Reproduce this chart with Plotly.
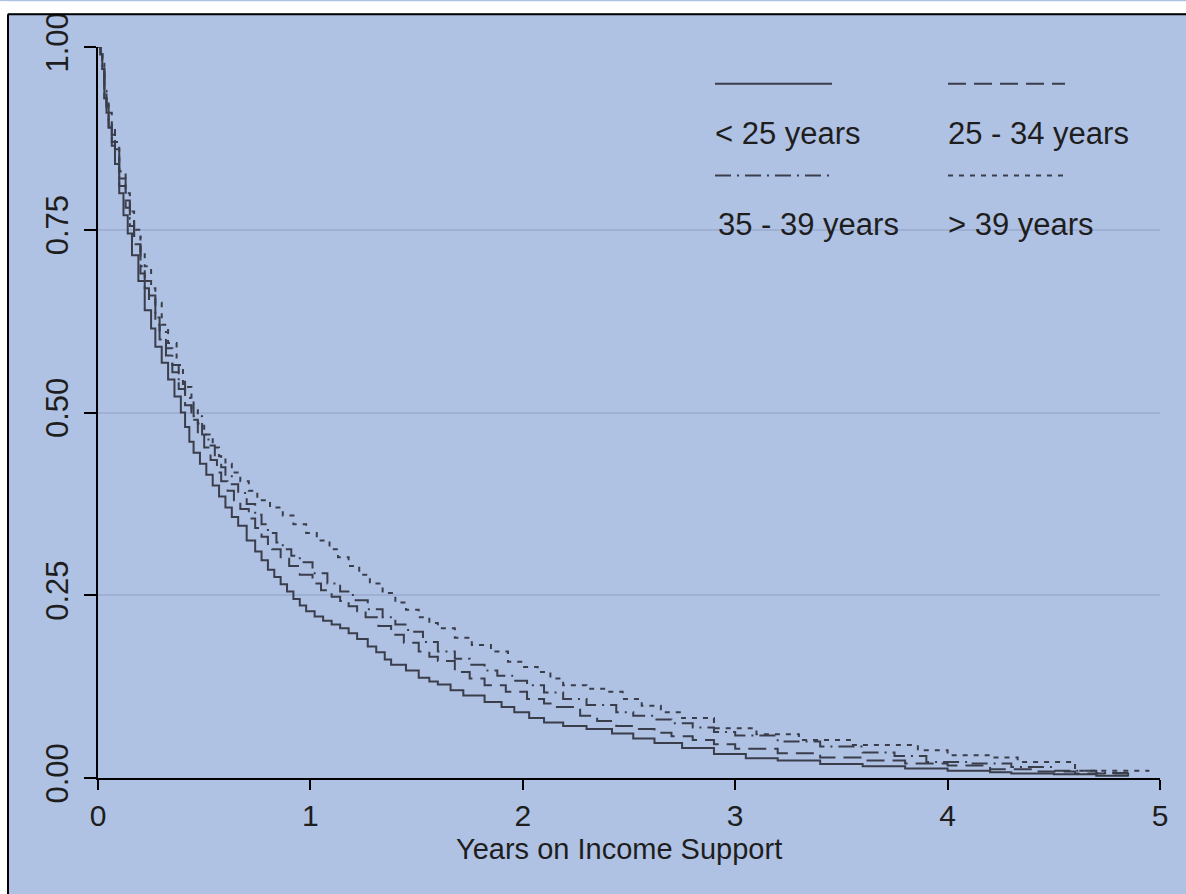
import plotly.graph_objects as go

# ---------------- data ----------------
t_lt25 = [0, 0.012, 0.02, 0.03, 0.04, 0.05, 0.065, 0.08, 0.1, 0.12,
          0.14, 0.16, 0.19, 0.22, 0.25, 0.27, 0.3, 0.33, 0.36, 0.39,
          0.41, 0.43, 0.45, 0.48, 0.51, 0.54, 0.57, 0.6, 0.63, 0.66,
          0.7, 0.74, 0.77, 0.8, 0.83, 0.86, 0.89, 0.92, 0.95, 0.98,
          1.02, 1.06, 1.1, 1.14, 1.18, 1.22, 1.27, 1.31, 1.35, 1.38,
          1.45, 1.51, 1.56, 1.6, 1.66, 1.72, 1.82, 1.9, 1.96, 2.03,
          2.1, 2.19, 2.3, 2.42, 2.52, 2.62, 2.75, 2.9, 3.05, 3.2,
          3.4, 3.6, 3.8, 4.0, 4.2, 4.3, 4.5, 4.7, 4.85]
s_lt25 = [1.0, 0.99, 0.97, 0.93, 0.91, 0.89, 0.865, 0.84, 0.80, 0.77,
          0.745, 0.715, 0.68, 0.64, 0.615, 0.59, 0.568, 0.545, 0.522, 0.50,
          0.48, 0.46, 0.445, 0.43, 0.415, 0.40, 0.385, 0.37, 0.357, 0.345,
          0.325, 0.31, 0.298, 0.285, 0.275, 0.265, 0.255, 0.245, 0.236, 0.228,
          0.221, 0.215, 0.21, 0.205, 0.198, 0.19, 0.18, 0.172, 0.162, 0.155,
          0.147, 0.137, 0.132, 0.128, 0.12, 0.113, 0.104, 0.097, 0.09, 0.082,
          0.076, 0.071, 0.067, 0.061, 0.054, 0.048, 0.041, 0.033, 0.027, 0.024,
          0.019, 0.016, 0.013, 0.010, 0.008, 0.006, 0.005, 0.003, 0.002]

t_25_34 = [0, 0.012, 0.02, 0.03, 0.04, 0.05, 0.065, 0.08, 0.1, 0.13,
           0.15, 0.17, 0.2, 0.22, 0.24, 0.27, 0.29, 0.32, 0.35, 0.38,
           0.41, 0.44, 0.47, 0.5, 0.53, 0.56, 0.58, 0.61, 0.64, 0.67,
           0.71, 0.74, 0.77, 0.8, 0.82, 0.86, 0.9, 0.95, 1.01, 1.05,
           1.1, 1.14, 1.18, 1.22, 1.26, 1.32, 1.38, 1.44, 1.51, 1.56,
           1.6, 1.68, 1.75, 1.82, 1.92, 2.02, 2.1, 2.15, 2.27, 2.35,
           2.44, 2.52, 2.62, 2.7, 2.8, 2.9, 3.0, 3.2, 3.4, 3.6,
           3.8, 4.0, 4.2, 4.4, 4.6, 4.85]
s_25_34 = [1.0, 0.99, 0.97, 0.93, 0.915, 0.89, 0.87, 0.85, 0.81, 0.78,
           0.755, 0.73, 0.69, 0.67, 0.65, 0.62, 0.60, 0.578, 0.555, 0.532,
           0.51, 0.49, 0.47, 0.452, 0.435, 0.418, 0.406, 0.393, 0.38, 0.368,
           0.355, 0.342, 0.33, 0.32, 0.313, 0.30, 0.29, 0.278, 0.266, 0.257,
           0.248, 0.242, 0.235, 0.228, 0.22, 0.208, 0.196, 0.185, 0.173, 0.166,
           0.16, 0.145, 0.136, 0.127, 0.118, 0.108, 0.102, 0.097, 0.085, 0.078,
           0.071, 0.067, 0.062, 0.057, 0.052, 0.046, 0.040, 0.034, 0.028, 0.024,
           0.020, 0.017, 0.012, 0.009, 0.006, 0.004]

t_35_39 = [0, 0.012, 0.02, 0.03, 0.04, 0.05, 0.065, 0.08, 0.1, 0.13,
           0.15, 0.17, 0.2, 0.22, 0.24, 0.27, 0.29, 0.32, 0.35, 0.38,
           0.41, 0.45, 0.49, 0.52, 0.55, 0.58, 0.6, 0.63, 0.66, 0.7,
           0.74, 0.77, 0.8, 0.84, 0.87, 0.91, 0.95, 1.01, 1.08, 1.14,
           1.2, 1.27, 1.34, 1.4, 1.46, 1.53, 1.6, 1.68, 1.75, 1.82,
           1.88, 1.95, 2.02, 2.1, 2.19, 2.3, 2.44, 2.52, 2.62, 2.7,
           2.8, 2.9, 3.0, 3.2, 3.4, 3.6, 3.75, 3.9, 4.1, 4.3,
           4.5, 4.7, 4.85]
s_35_39 = [1.0, 0.99, 0.97, 0.94, 0.92, 0.90, 0.88, 0.86, 0.82, 0.79,
           0.765, 0.74, 0.70, 0.68, 0.66, 0.63, 0.61, 0.588, 0.565, 0.542,
           0.52, 0.495, 0.47, 0.455, 0.44, 0.425, 0.415, 0.402, 0.39, 0.375,
           0.36, 0.347, 0.335, 0.322, 0.313, 0.304, 0.295, 0.28, 0.266, 0.255,
           0.243, 0.231, 0.22, 0.21, 0.20, 0.186, 0.173, 0.163, 0.155, 0.147,
           0.14, 0.133, 0.127, 0.117, 0.108, 0.10, 0.09, 0.085, 0.08, 0.075,
           0.069, 0.063, 0.058, 0.050, 0.043, 0.035, 0.030, 0.022, 0.020, 0.015,
           0.010, 0.007, 0.005]

t_gt39 = [0, 0.012, 0.02, 0.03, 0.04, 0.05, 0.065, 0.08, 0.1, 0.13,
          0.15, 0.17, 0.2, 0.22, 0.25, 0.27, 0.3, 0.33, 0.37, 0.4,
          0.44, 0.47, 0.5, 0.54, 0.57, 0.6, 0.63, 0.67, 0.71, 0.75,
          0.81, 0.87, 0.92, 0.98, 1.03, 1.09, 1.13, 1.18, 1.23, 1.28,
          1.34, 1.4, 1.45, 1.51, 1.56, 1.6, 1.68, 1.76, 1.85, 1.93,
          2.0, 2.07, 2.13, 2.19, 2.3, 2.39, 2.47, 2.56, 2.65, 2.75,
          2.9, 3.1, 3.3, 3.54, 3.86, 4.0, 4.2, 4.33, 4.6, 4.95]
s_gt39 = [1.0, 0.99, 0.98, 0.94, 0.925, 0.91, 0.89, 0.87, 0.83, 0.80,
          0.775, 0.75, 0.72, 0.70, 0.67, 0.65, 0.62, 0.595, 0.565, 0.535,
          0.505, 0.485, 0.47, 0.452, 0.44, 0.43, 0.418, 0.406, 0.393, 0.38,
          0.37, 0.359, 0.347, 0.335, 0.325, 0.313, 0.302, 0.29, 0.278, 0.266,
          0.253, 0.24, 0.23, 0.22, 0.212, 0.205, 0.192, 0.182, 0.173, 0.159,
          0.152, 0.145, 0.136, 0.127, 0.122, 0.118, 0.108, 0.099, 0.09, 0.082,
          0.068, 0.060, 0.052, 0.045, 0.038, 0.031, 0.028, 0.022, 0.010, 0.010]

labels = ["< 25 years", "25 - 34 years", "35 - 39 years", "> 39 years"]
y_ticks = [0.0, 0.25, 0.5, 0.75, 1.0]
x_ticks = [0, 1, 2, 3, 4, 5]
x_title = "Years on Income Support"

# ---------------- styles ----------------
BG = "#B0C2E4"
GRID = "#9FB0D4"
LINE = "#3A3D4A"
TXT = "#1E1E1E"
FONT = "Liberation Sans, Arial, sans-serif"
dashes = ["solid", "18px,8px", "16px,6px,2px,6px", "5px,6px"]

series = [(t_lt25, s_lt25), (t_25_34, s_25_34), (t_35_39, s_35_39), (t_gt39, s_gt39)]

fig = go.Figure()
for (tt, ss), name, d in zip(series, labels, dashes):
    n = min(len(tt), len(ss))
    fig.add_trace(go.Scatter(x=tt[:n], y=ss[:n], mode="lines", name=name, line_shape="hv",
                             line=dict(color=LINE, width=2, dash=d), cliponaxis=False,
                             showlegend=False))

W, H = 1186, 894
L, R, T, B = 98, 26, 44, 116

fig.update_layout(
    width=W, height=H,
    margin=dict(l=L, r=R, t=T, b=B, pad=0),
    paper_bgcolor=BG, plot_bgcolor=BG,
    font=dict(family=FONT, size=30, color=TXT),
    showlegend=False,
)
fig.update_xaxes(range=[0, 5], tickvals=x_ticks, ticktext=[str(v) for v in x_ticks],
                 showgrid=False, zeroline=False, showline=True, linecolor="black", linewidth=2,
                 ticks="outside", ticklen=10, tickwidth=2, tickcolor="black",
                 tickfont=dict(size=30, color=TXT), ticklabelstandoff=0)
fig.update_yaxes(range=[0, 1], tickvals=y_ticks, ticktext=[f"{v:.2f}" for v in y_ticks],
                 showgrid=True, gridcolor=GRID, gridwidth=2, zeroline=False,
                 showline=True, linecolor="black", linewidth=2,
                 ticks="outside", ticklen=12, tickwidth=2, tickcolor="black",
                 tickangle=-90, tickfont=dict(size=31, color=TXT), ticklabelstandoff=4)


def px2paper_x(px):
    return (px - L) / (W - L - R)


def px2paper_y(py):
    return (H - B - py) / (H - T - B)


# x-axis title as annotation (positioned as in reference)
fig.add_annotation(text=x_title, xref="paper", yref="paper",
                   x=px2paper_x(619), y=px2paper_y(849), xanchor="center", yanchor="middle",
                   showarrow=False, font=dict(size=29, color=TXT))

shapes = []
# legend background covering gridlines
shapes.append(dict(type="rect", xref="paper", yref="paper", layer="between",
                   x0=px2paper_x(705), x1=px2paper_x(1152), y0=px2paper_y(245), y1=px2paper_y(56),
                   fillcolor=BG, line=dict(width=0)))
# legend samples and labels
leg_pos = [(715, 832, 81, 713, 131), (948, 1065, 81, 946, 131),
           (715, 832, 173, 716, 222), (948, 1065, 173, 946, 222)]
for (x0, x1, yl, xt, yt), name, d in zip(leg_pos, labels, dashes):
    shapes.append(dict(type="line", xref="paper", yref="paper",
                       x0=px2paper_x(x0), x1=px2paper_x(x1), y0=px2paper_y(yl), y1=px2paper_y(yl),
                       line=dict(color=LINE, width=2, dash=d)))
    fig.add_annotation(text=name, xref="paper", yref="paper", x=px2paper_x(xt), y=px2paper_y(yt),
                       xanchor="left", yanchor="middle", showarrow=False,
                       font=dict(size=31, color=TXT))

# white strip on top / left and black frame
shapes.append(dict(type="rect", xref="paper", yref="paper", layer="above",
                   x0=px2paper_x(-2), x1=px2paper_x(W + 2), y0=px2paper_y(10), y1=px2paper_y(-2),
                   fillcolor="white", line=dict(width=0)))
shapes.append(dict(type="rect", xref="paper", yref="paper", layer="above",
                   x0=px2paper_x(-2), x1=px2paper_x(7), y0=px2paper_y(H + 2), y1=px2paper_y(-2),
                   fillcolor="white", line=dict(width=0)))
shapes.append(dict(type="line", xref="paper", yref="paper", layer="above",
                   x0=px2paper_x(8), x1=px2paper_x(W + 2), y0=px2paper_y(11), y1=px2paper_y(11),
                   line=dict(color="black", width=2)))
shapes.append(dict(type="line", xref="paper", yref="paper", layer="above",
                   x0=px2paper_x(8), x1=px2paper_x(8), y0=px2paper_y(H + 2), y1=px2paper_y(11),
                   line=dict(color="black", width=2)))
fig.update_layout(shapes=shapes)

fig.write_html("out.html")
